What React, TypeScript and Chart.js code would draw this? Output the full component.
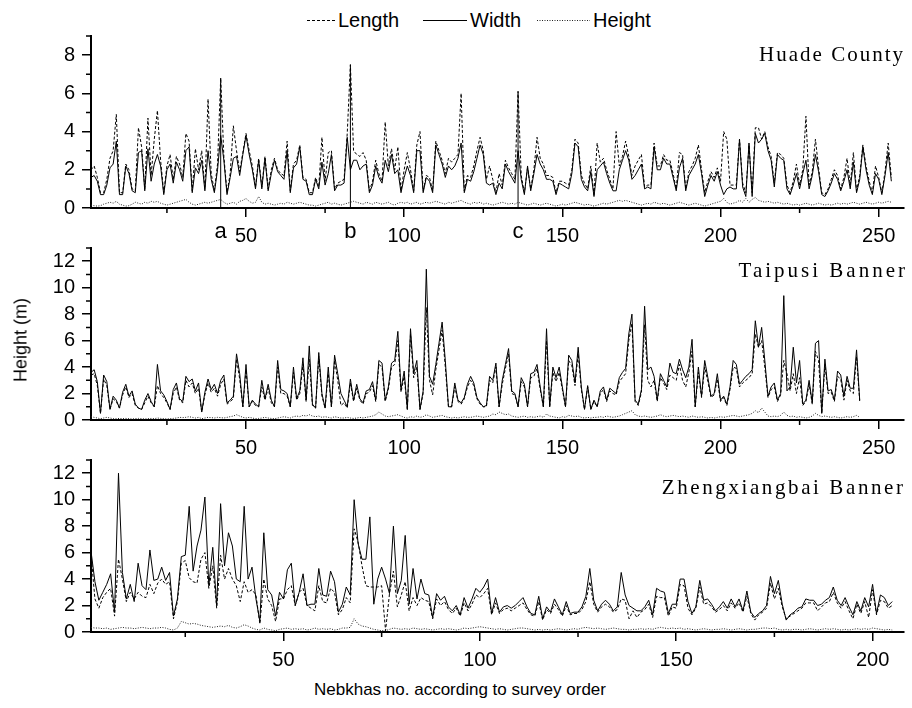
import React, { useEffect, useRef } from "react";
import { Chart, registerables } from "chart.js";
Chart.register(...registerables);

// ---------- Huade County (nebkha no. 1..254) ----------
const HUADE_LENGTH = [
  2.0, 2.2, 1.6, 0.8, 0.8, 1.5, 2.6, 3.0, 4.9, 0.8,
  0.8, 2.3, 2.0, 1.0, 0.9, 4.2, 3.2, 1.0, 4.7, 1.7,
  3.6, 5.1, 2.5, 0.8, 2.2, 2.8, 1.5, 2.7, 2.3, 1.6,
  3.9, 3.5, 0.9, 3.1, 2.0, 3.0, 1.0, 5.7, 1.8, 0.9,
  2.3, 6.8, 2.7, 0.8, 1.8, 4.3, 3.0, 1.9, 2.9, 3.9,
  3.0, 2.2, 1.1, 2.6, 1.1, 2.7, 1.0, 2.0, 2.6, 2.0,
  1.8, 1.7, 3.5, 0.9, 2.3, 2.5, 3.3, 1.6, 1.5, 0.8,
  0.8, 1.6, 1.1, 3.7, 1.4, 2.9, 3.0, 1.0, 1.3, 1.4,
  1.5, 3.9, 7.5, 3.0, 2.8, 2.7, 2.9, 2.5, 0.9, 1.4,
  2.5, 1.8, 1.4, 4.5, 2.2, 3.1, 2.0, 3.2, 0.9, 2.0,
  2.9, 2.0, 0.9, 3.3, 4.0, 0.9, 1.7, 1.6, 0.9, 3.5,
  3.0, 2.5, 1.8, 2.6, 2.4, 2.6, 2.8, 6.0, 0.9, 1.7,
  1.6, 2.2, 3.0, 3.7, 3.0, 1.5, 2.2, 1.5, 0.8, 1.8,
  1.2, 2.5, 2.1, 1.8, 1.5, 6.1, 1.7, 0.8, 2.1, 1.0,
  2.0, 3.7, 2.6, 2.3, 1.7, 1.7, 1.6, 0.8, 1.4, 1.4,
  1.3, 1.2, 2.0, 3.6, 3.4, 1.7, 1.3, 1.0, 2.2, 0.7,
  3.4, 2.4, 2.6, 2.0, 1.5, 1.0, 4.0, 2.2, 2.7, 3.5,
  2.7, 1.7, 2.2, 2.5, 2.8, 1.1, 1.2, 1.2, 3.4, 2.2,
  2.2, 2.8, 2.5, 2.5, 1.8, 1.0, 2.9, 2.8, 1.0, 1.9,
  2.2, 2.6, 3.3, 2.0, 0.8, 1.4, 1.9, 1.6, 2.1, 1.4,
  4.0, 3.6, 1.2, 1.2, 1.2, 3.6, 1.3, 0.8, 3.3, 0.8,
  4.2, 4.2, 3.6, 4.0, 3.2, 2.7, 1.3, 2.9, 2.8, 2.6,
  1.2, 0.8, 1.4, 2.3, 1.2, 2.0, 4.8, 1.2, 1.9, 3.6,
  2.1, 0.8, 0.7, 1.0, 1.5, 2.0, 1.7, 1.0, 1.6, 2.6,
  1.2, 2.9, 0.9, 1.7, 3.3, 2.2, 1.4, 0.8, 2.2, 1.6,
  0.8, 1.9, 3.4, 1.6,
];
const HUADE_WIDTH = [
  1.6, 1.7, 1.4, 0.7, 0.7, 1.2, 2.1, 2.3, 3.5, 0.7,
  0.7, 2.2, 1.8, 0.9, 0.8, 2.9, 3.0, 0.9, 3.1, 1.4,
  2.3, 2.8, 2.2, 0.7, 2.0, 2.3, 1.3, 2.4, 2.0, 1.4,
  3.0, 3.2, 0.8, 2.1, 1.8, 2.5, 0.9, 3.0, 1.5, 0.8,
  2.0, 3.8, 2.5, 0.7, 1.6, 2.6, 2.7, 1.7, 2.8, 3.8,
  2.8, 2.0, 1.0, 2.5, 1.0, 2.6, 0.9, 1.8, 2.5, 1.9,
  1.7, 1.5, 3.0, 0.8, 2.1, 2.3, 3.2, 1.5, 1.4, 0.7,
  0.7, 1.5, 1.0, 2.4, 1.2, 1.8, 2.8, 0.9, 1.2, 1.2,
  1.3, 3.7, 2.0, 2.5, 2.5, 2.0, 2.2, 2.3, 0.8, 1.2,
  2.2, 1.6, 1.3, 2.5, 1.9, 2.8, 1.8, 2.0, 0.8, 1.6,
  2.2, 1.7, 0.8, 3.0, 3.0, 0.8, 1.6, 1.4, 0.8, 3.3,
  2.8, 2.3, 1.6, 2.2, 2.0, 2.2, 2.6, 3.4, 0.8, 1.5,
  1.4, 1.9, 2.6, 3.3, 2.8, 1.3, 1.2, 1.3, 0.7, 1.3,
  1.0, 2.3, 1.9, 1.6, 1.3, 3.0, 1.5, 0.7, 2.2, 0.9,
  1.8, 2.8, 2.3, 2.0, 1.5, 1.5, 1.4, 0.7, 1.3, 1.2,
  1.1, 1.0, 1.8, 3.4, 3.2, 1.5, 1.1, 0.9, 1.9, 0.6,
  2.0, 2.2, 2.4, 1.8, 1.3, 0.9, 0.9, 2.0, 2.5, 3.0,
  2.5, 1.5, 1.7, 2.0, 2.3, 1.0, 1.1, 1.0, 3.2, 2.0,
  2.0, 2.6, 2.3, 2.3, 1.6, 0.9, 2.1, 2.6, 0.9, 1.7,
  2.0, 2.3, 2.8, 1.8, 0.6, 1.2, 1.7, 1.4, 1.9, 1.2,
  0.7, 1.0, 1.1, 1.0, 1.0, 3.6, 1.1, 0.6, 3.4, 0.6,
  3.9, 3.4, 3.6, 3.9, 3.0, 2.5, 1.1, 2.8, 2.6, 2.5,
  1.0, 0.7, 1.2, 1.8, 1.0, 1.8, 2.5, 1.0, 1.7, 2.8,
  1.9, 0.7, 0.6, 0.9, 1.3, 1.8, 1.5, 0.9, 1.4, 2.0,
  1.0, 2.4, 0.8, 1.5, 3.2, 2.0, 1.2, 0.7, 1.8, 1.5,
  0.7, 1.7, 2.9, 1.4,
];
const HUADE_HEIGHT = [
  0.15, 0.12, 0.1, 0.12, 0.2, 0.25, 0.3, 0.25, 0.35, 0.2,
  0.15, 0.1, 0.12, 0.2, 0.3, 0.25, 0.2, 0.3, 0.25, 0.35,
  0.3, 0.35, 0.25, 0.2, 0.15, 0.2, 0.25, 0.3, 0.35, 0.4,
  0.45, 0.3, 0.2, 0.15, 0.2, 0.25, 0.3, 0.25, 0.3, 0.35,
  0.4, 0.45, 0.3, 0.2, 0.25, 0.3, 0.2, 0.35, 0.4, 0.5,
  0.35, 0.25, 0.3, 0.6, 0.3, 0.2, 0.25, 0.2, 0.15, 0.2,
  0.25, 0.2, 0.3, 0.25, 0.2, 0.25, 0.3, 0.25, 0.2, 0.15,
  0.15, 0.1, 0.15, 0.2, 0.25, 0.3, 0.2, 0.25, 0.2, 0.15,
  0.2, 0.25, 0.3, 0.35, 0.3, 0.25, 0.2, 0.3, 0.25, 0.2,
  0.3, 0.25, 0.2, 0.25, 0.3, 0.2, 0.15, 0.25, 0.3, 0.25,
  0.3, 0.2, 0.25, 0.3, 0.2, 0.25, 0.3, 0.25, 0.3, 0.35,
  0.3, 0.25, 0.2, 0.3, 0.25, 0.3, 0.35, 0.4, 0.3, 0.25,
  0.2, 0.3, 0.25, 0.3, 0.2, 0.25, 0.2, 0.15, 0.2, 0.25,
  0.3, 0.25, 0.2, 0.25, 0.2, 0.3, 0.25, 0.2, 0.15, 0.2,
  0.25, 0.2, 0.15, 0.2, 0.25, 0.2, 0.15, 0.1, 0.15, 0.2,
  0.15, 0.2, 0.25, 0.3, 0.25, 0.2, 0.15, 0.2, 0.15, 0.1,
  0.15, 0.2, 0.25, 0.2, 0.25, 0.3, 0.35, 0.4, 0.35, 0.4,
  0.35, 0.3, 0.25, 0.2, 0.15, 0.2, 0.25, 0.2, 0.3, 0.25,
  0.2, 0.25, 0.2, 0.15, 0.2, 0.25, 0.3, 0.25, 0.2, 0.15,
  0.2, 0.25, 0.2, 0.15, 0.1, 0.15, 0.2, 0.25, 0.3, 0.35,
  0.5, 0.3, 0.2, 0.25, 0.3, 0.4, 0.3, 0.5, 0.3, 0.45,
  0.55, 0.4, 0.35, 0.3, 0.35, 0.3, 0.25, 0.3, 0.25, 0.2,
  0.25, 0.2, 0.15, 0.2, 0.15, 0.2, 0.25, 0.2, 0.15, 0.2,
  0.25, 0.2, 0.15, 0.2, 0.15, 0.2, 0.25, 0.2, 0.25, 0.2,
  0.25, 0.3, 0.25, 0.2, 0.25, 0.3, 0.25, 0.2, 0.25, 0.3,
  0.25, 0.3, 0.35, 0.3,
];

// ---------- Taipusi Banner (nebkha no. 1..244) ----------
const TAIPUSI_LENGTH = [
  3.4, 3.5, 2.6, 0.5, 3.1, 2.6, 0.8, 1.6, 1.4, 0.9,
  1.9, 2.5, 1.7, 2.0, 1.1, 0.9, 0.8, 1.3, 1.8, 1.3,
  1.0, 2.6, 2.0, 1.7, 1.3, 0.8, 2.0, 2.5, 1.5, 1.3,
  3.0, 2.5, 2.8, 2.0, 2.4, 0.6, 1.9, 2.8, 2.1, 2.4,
  1.8, 2.7, 3.1, 1.2, 1.4, 1.6, 4.6, 3.1, 1.0, 3.8,
  1.0, 1.4, 1.1, 1.0, 2.5, 1.5, 2.4, 1.3, 1.0, 4.0,
  2.0, 2.0, 1.8, 1.0, 3.6, 1.5, 2.0, 4.2, 1.4, 4.6,
  1.1, 0.9, 4.8, 1.8, 0.9, 3.5, 1.0, 4.5, 3.0, 1.1,
  1.3, 0.9, 2.8, 1.4, 2.4, 1.5, 1.2, 2.0, 2.1, 2.6,
  1.4, 4.2, 4.0, 1.4, 2.3, 4.0, 4.2, 6.0, 2.1, 3.3,
  0.8, 6.5, 3.2, 4.0, 0.8, 2.0, 8.5, 3.0, 1.9, 3.8,
  5.3, 6.8, 4.0, 1.0, 1.0, 2.5, 1.4, 1.2, 1.6, 2.5,
  3.0, 2.6, 1.6, 1.2, 1.0, 1.0, 3.0, 2.8, 4.0, 1.0,
  2.7, 3.9, 5.0, 2.0, 1.9, 1.0, 2.9, 2.5, 1.0, 3.2,
  3.3, 3.9, 2.3, 1.0, 6.0, 1.0, 3.6, 2.9, 3.6, 2.3,
  1.0, 4.5, 4.1, 2.6, 5.0, 2.3, 0.8, 2.5, 0.8, 1.4,
  1.0, 2.0, 2.3, 1.4, 2.2, 2.0, 1.9, 2.9, 3.2, 3.5,
  6.0, 7.3, 1.4, 1.1, 2.1, 7.2, 3.0, 2.5, 3.0, 1.4,
  3.2, 2.8, 2.3, 3.4, 3.2, 3.0, 4.2, 3.0, 2.5, 3.6,
  5.2, 1.0, 3.6, 1.7, 4.0, 2.9, 1.7, 1.9, 3.1, 1.4,
  1.7, 1.1, 2.3, 4.0, 3.9, 2.5, 2.8, 3.0, 3.2, 3.5,
  6.5, 5.5, 6.0, 4.0, 1.7, 2.3, 2.5, 1.4, 1.9, 4.5,
  3.5, 2.2, 3.5, 2.0, 3.2, 1.1, 1.4, 2.7, 1.2, 5.2,
  4.5, 0.5, 4.2, 2.0, 2.1, 1.4, 3.3, 3.1, 1.5, 3.0,
  2.2, 2.0, 4.8, 1.4,
];
const TAIPUSI_WIDTH = [
  3.6, 3.8, 2.9, 0.5, 3.4, 2.9, 0.8, 1.8, 1.5, 0.9,
  2.1, 2.7, 1.8, 2.2, 1.2, 0.9, 0.8, 1.5, 2.0, 1.4,
  1.0, 4.2, 2.2, 1.9, 1.4, 0.8, 2.3, 2.8, 1.6, 1.4,
  3.3, 2.9, 3.1, 2.2, 2.8, 0.6, 2.1, 3.1, 2.3, 2.7,
  2.0, 3.0, 3.4, 1.3, 1.5, 1.8, 5.0, 3.5, 1.0, 4.2,
  1.0, 1.5, 1.2, 1.0, 3.0, 1.6, 2.7, 1.5, 1.0, 4.5,
  2.3, 2.2, 2.0, 1.0, 4.0, 1.6, 2.2, 4.7, 1.5, 5.6,
  1.2, 0.9, 5.1, 2.0, 0.9, 4.0, 1.0, 4.9, 3.5, 2.0,
  1.5, 1.0, 3.1, 1.5, 2.7, 1.6, 1.3, 2.2, 2.3, 2.9,
  1.5, 4.5, 4.3, 1.5, 2.5, 4.3, 4.5, 6.7, 2.3, 3.7,
  0.8, 6.9, 3.5, 4.5, 0.8, 2.2, 11.4, 3.3, 2.7, 4.2,
  5.8, 7.4, 4.5, 1.0, 1.0, 2.8, 1.5, 1.3, 1.7, 2.7,
  3.3, 2.8, 1.7, 1.3, 1.0, 1.1, 3.3, 3.0, 4.3, 1.0,
  3.0, 4.2, 5.4, 2.2, 2.0, 1.0, 3.2, 2.7, 1.0, 3.5,
  3.6, 4.2, 2.5, 1.0, 6.9, 1.0, 4.0, 3.2, 4.0, 2.5,
  1.0, 4.9, 4.5, 2.8, 5.5, 2.5, 0.8, 2.6, 0.8, 1.5,
  1.0, 2.2, 2.5, 1.5, 2.4, 2.2, 2.0, 3.2, 3.6, 3.9,
  6.5, 8.0, 1.5, 1.2, 2.3, 8.6, 3.8, 4.0, 3.3, 1.5,
  3.5, 3.0, 2.5, 4.3, 3.6, 3.5, 4.6, 3.8, 3.2, 4.0,
  6.1, 1.0, 4.0, 1.8, 4.5, 3.2, 1.8, 2.0, 3.5, 1.5,
  1.8, 1.2, 2.5, 4.5, 4.2, 2.7, 3.0, 3.3, 3.5, 3.8,
  7.5, 5.5, 7.0, 4.5, 1.8, 2.5, 2.8, 1.5, 2.0, 9.4,
  2.2, 2.5, 5.5, 2.8, 4.5, 1.2, 1.5, 3.0, 1.3, 5.8,
  6.0, 0.5, 4.6, 2.2, 2.3, 1.5, 3.7, 3.4, 1.8, 3.3,
  2.4, 2.4, 5.3, 1.5,
];
const TAIPUSI_HEIGHT = [
  0.25, 0.2, 0.15, 0.1, 0.15, 0.2, 0.15, 0.1, 0.1, 0.12,
  0.1, 0.12, 0.1, 0.08, 0.1, 0.12, 0.1, 0.08, 0.1, 0.12,
  0.1, 0.15, 0.12, 0.1, 0.08, 0.1, 0.12, 0.15, 0.2, 0.18,
  0.2, 0.25, 0.2, 0.15, 0.2, 0.1, 0.15, 0.2, 0.18, 0.15,
  0.2, 0.18, 0.15, 0.2, 0.25, 0.3, 0.4, 0.3, 0.2, 0.15,
  0.2, 0.15, 0.1, 0.12, 0.15, 0.2, 0.15, 0.12, 0.1, 0.15,
  0.2, 0.25, 0.2, 0.15, 0.25, 0.3, 0.25, 0.35, 0.3, 0.4,
  0.3, 0.25, 0.3, 0.2, 0.25, 0.2, 0.15, 0.25, 0.2, 0.15,
  0.15, 0.2, 0.15, 0.12, 0.15, 0.2, 0.15, 0.2, 0.25, 0.3,
  0.4, 0.6, 0.45, 0.3, 0.25, 0.3, 0.35, 0.4, 0.3, 0.2,
  0.15, 0.25, 0.2, 0.3, 0.2, 0.25, 0.4, 0.3, 0.2, 0.25,
  0.3, 0.35, 0.25, 0.2, 0.15, 0.2, 0.15, 0.2, 0.25, 0.2,
  0.2, 0.25, 0.3, 0.25, 0.2, 0.25, 0.3, 0.45, 0.4, 0.6,
  0.5, 0.4, 0.45, 0.3, 0.25, 0.2, 0.25, 0.3, 0.2, 0.25,
  0.2, 0.25, 0.3, 0.2, 0.45, 0.3, 0.25, 0.2, 0.15, 0.25,
  0.2, 0.35, 0.3, 0.25, 0.3, 0.2, 0.15, 0.2, 0.15, 0.2,
  0.2, 0.25, 0.2, 0.3, 0.25, 0.2, 0.25, 0.3, 0.4, 0.5,
  0.6, 0.7, 0.4, 0.3, 0.25, 0.3, 0.25, 0.2, 0.25, 0.3,
  0.4, 0.3, 0.25, 0.3, 0.35, 0.3, 0.25, 0.3, 0.25, 0.2,
  0.3, 0.25, 0.2, 0.25, 0.2, 0.15, 0.2, 0.15, 0.2, 0.25,
  0.2, 0.25, 0.3, 0.35, 0.3, 0.25, 0.3, 0.35, 0.4, 0.5,
  0.7, 0.55, 0.9, 0.6, 0.3, 0.25, 0.3, 0.25, 0.35, 0.6,
  0.35, 0.25, 0.3, 0.2, 0.25, 0.2, 0.15, 0.2, 0.3, 0.5,
  0.35, 0.25, 0.3, 0.25, 0.2, 0.25, 0.2, 0.15, 0.2, 0.25,
  0.2, 0.25, 0.35, 0.2,
];

// ---------- Zhengxiangbai Banner (nebkha no. 1..205) ----------
const ZHENG_LENGTH = [
  5.9, 2.5, 1.8, 2.6, 3.0, 3.3, 1.2, 5.5, 4.0, 2.3,
  3.0, 2.5, 3.0, 2.7, 2.6, 3.6, 2.9, 3.7, 4.0, 3.6,
  3.8, 1.0, 2.3, 5.2, 5.4, 4.1, 3.8, 3.7, 5.5, 6.0,
  3.3, 5.0, 1.8, 5.8, 4.0, 4.8, 4.0, 3.5, 2.3, 3.8,
  3.0, 3.2, 2.8, 0.6, 4.0, 2.5, 2.0, 0.8, 2.5, 2.5,
  3.2, 3.5, 2.0, 3.0, 3.3, 2.0, 1.8, 1.6, 3.5, 2.3,
  2.2, 3.3, 3.0, 1.3, 1.7, 2.6, 2.2, 7.8, 6.8, 5.0,
  3.5, 3.4, 3.4, 3.4, 3.5, 0.1, 2.9, 4.6, 1.9, 2.8,
  3.8, 1.6, 2.6, 2.0, 2.6, 2.4, 2.3, 1.0, 2.5, 2.0,
  2.3, 1.7, 1.4, 1.8, 1.2, 2.2, 1.6, 2.1, 2.8, 2.6,
  2.9, 3.3, 1.3, 2.2, 1.4, 1.7, 1.8, 1.6, 1.8, 2.0,
  2.2, 1.7, 1.3, 1.2, 2.3, 0.9, 1.7, 1.4, 2.1, 1.7,
  1.2, 2.0, 1.3, 1.4, 1.4, 1.7, 2.3, 3.8, 2.1, 1.5,
  1.9, 2.1, 1.9, 1.5, 1.7, 2.5, 2.4, 1.0, 1.6, 1.1,
  1.5, 1.7, 2.1, 1.1, 2.7, 2.6, 2.6, 1.2, 1.9, 1.8,
  3.6, 3.5, 1.8, 1.3, 1.8, 3.4, 2.1, 2.2, 1.9, 1.5,
  1.7, 2.0, 1.6, 2.2, 1.8, 2.2, 1.5, 2.7, 1.4, 0.9,
  1.3, 1.5, 1.8, 3.7, 2.5, 3.3, 1.9, 1.0, 1.2, 1.4,
  1.6, 1.8, 2.2, 2.2, 2.2, 1.6, 1.9, 2.2, 2.3, 3.0,
  2.2, 1.8, 2.3, 1.6, 1.0, 2.1, 1.4, 2.3, 1.1, 3.2,
  1.3, 2.4, 2.3, 1.8, 2.0,
];
const ZHENG_WIDTH = [
  6.1, 3.8, 2.4, 3.0, 3.6, 4.4, 1.5, 12.0, 4.5, 2.5,
  3.6, 2.3, 5.2, 3.5, 3.2, 6.2, 3.9, 4.0, 4.9, 3.9,
  4.5, 1.2, 2.5, 5.7, 5.8, 9.5, 4.6, 6.5, 7.7, 10.2,
  3.5, 6.4, 2.0, 9.7, 5.0, 7.5, 6.5, 4.0, 3.8, 9.5,
  4.0, 4.9, 2.5, 0.8, 7.5, 3.2, 2.8, 1.2, 3.0, 2.5,
  4.7, 5.2, 2.0, 3.0, 4.4, 2.0, 2.1, 2.1, 4.8, 2.8,
  2.7, 4.6, 3.8, 1.5, 2.1, 3.4, 2.8, 10.0, 6.7, 5.5,
  5.5, 8.7, 2.1, 4.0, 4.9, 4.0, 2.9, 8.0, 2.9, 3.9,
  7.3, 2.1, 4.8, 2.5, 4.0, 2.9, 2.8, 1.1, 2.9, 2.4,
  2.7, 1.9, 1.6, 2.0, 1.3, 2.6, 1.8, 2.5, 3.3, 3.0,
  3.4, 4.0, 1.4, 2.6, 1.5, 1.9, 2.0, 1.8, 2.0, 2.3,
  2.6, 1.9, 1.4, 1.3, 2.7, 1.0, 1.9, 1.5, 2.5, 1.9,
  1.3, 2.3, 1.4, 1.5, 1.5, 1.9, 2.7, 4.8, 2.4, 1.6,
  2.1, 2.4, 2.1, 1.6, 1.9, 4.5, 2.8, 2.0, 1.8, 1.6,
  1.6, 1.9, 2.4, 1.3, 3.3, 3.1, 3.0, 1.4, 2.1, 2.1,
  4.0, 4.0, 2.3, 1.4, 1.9, 3.9, 2.4, 2.5, 2.1, 1.6,
  1.9, 2.3, 1.8, 2.5, 1.9, 2.5, 1.6, 3.1, 1.5, 1.1,
  1.4, 1.6, 2.0, 4.2, 2.9, 3.9, 2.1, 0.9, 1.3, 1.5,
  1.8, 1.9, 2.5, 2.4, 2.4, 2.0, 2.1, 2.4, 2.6, 3.4,
  2.4, 2.0, 2.6, 1.9, 1.3, 2.3, 1.6, 2.6, 1.9, 3.6,
  1.4, 2.8, 2.6, 2.0, 2.3,
];
const ZHENG_HEIGHT = [
  0.35, 0.3, 0.3, 0.25, 0.3, 0.2, 0.25, 0.3, 0.35, 0.3,
  0.3, 0.25, 0.3, 0.35, 0.3, 0.25, 0.3, 0.3, 0.35, 0.3,
  0.2, 0.15, 0.3, 0.8, 0.7, 0.6, 0.65, 0.6, 0.5, 0.45,
  0.4, 0.35, 0.4, 0.45, 0.4, 0.5, 0.35, 0.3, 0.4, 0.55,
  0.45, 0.3, 0.2, 0.15, 0.3, 0.2, 0.15, 0.1, 0.2, 0.25,
  0.3, 0.2, 0.25, 0.2, 0.25, 0.15, 0.2, 0.3, 0.2, 0.25,
  0.2, 0.25, 0.15, 0.2, 0.3, 0.3, 0.35, 1.0, 0.6, 0.45,
  0.4, 0.3, 0.2, 0.15, 0.1, 0.1, 0.2, 0.3, 0.25, 0.2,
  0.25, 0.2, 0.3, 0.25, 0.2, 0.25, 0.2, 0.15, 0.2, 0.25,
  0.2, 0.25, 0.2, 0.15, 0.2, 0.3, 0.25, 0.3, 0.35, 0.4,
  0.35, 0.3, 0.25, 0.2, 0.25, 0.2, 0.15, 0.2, 0.25, 0.3,
  0.3, 0.25, 0.2, 0.15, 0.2, 0.15, 0.2, 0.15, 0.2, 0.25,
  0.2, 0.15, 0.2, 0.25, 0.2, 0.3, 0.35, 0.3, 0.25, 0.3,
  0.25, 0.2, 0.25, 0.3, 0.25, 0.2, 0.2, 0.15, 0.2, 0.2,
  0.25, 0.2, 0.25, 0.2, 0.3, 0.35, 0.3, 0.25, 0.3, 0.25,
  0.3, 0.2, 0.25, 0.2, 0.15, 0.2, 0.25, 0.2, 0.15, 0.2,
  0.2, 0.25, 0.2, 0.15, 0.2, 0.25, 0.2, 0.15, 0.2, 0.2,
  0.25, 0.3, 0.3, 0.25, 0.3, 0.2, 0.15, 0.2, 0.15, 0.2,
  0.2, 0.15, 0.2, 0.25, 0.2, 0.15, 0.2, 0.25, 0.2, 0.25,
  0.2, 0.15, 0.2, 0.15, 0.2, 0.25, 0.2, 0.25, 0.2, 0.3,
  0.25, 0.2, 0.15, 0.2, 0.15,
];

// ---------- ticks / labels ----------
const SERIES_NAMES = ["Length", "Width", "Height"];
const PANEL_TITLES = ["Huade County", "Taipusi Banner", "Zhengxiangbai Banner"];
const X_TICKS_LONG = [50, 100, 150, 200, 250];
const X_MINOR_LONG = [25, 75, 125, 175, 225];
const X_TICKS_SHORT = [50, 100, 150, 200];
const X_MINOR_SHORT = [25, 75, 125, 175];
const Y_TICKS_LOW = [0, 2, 4, 6, 8];
const Y_MINOR_LOW = [1, 3, 5, 7, 9];
const Y_TICKS_HIGH = [0, 2, 4, 6, 8, 10, 12];
const Y_MINOR_HIGH = [1, 3, 5, 7, 9, 11, 13];
const MARKER_NOS = [42, 83, 136];
const MARKER_LABELS = ["a", "b", "c"];
const X_TITLE = "Nebkhas no. according to survey order";
const Y_TITLE = "Height (m)";

const SANS = "'Liberation Sans', Arial, sans-serif";

const toXY = (arr: number[]) => arr.map((v, k) => ({ x: k + 1, y: v }));

const axisExtras = {
  id: "axisExtras",
  afterDraw(chart: any, _args: any, opts: any) {
    const { ctx } = chart;
    const xs = chart.scales.x;
    const ys = chart.scales.y;
    ctx.save();
    ctx.strokeStyle = "#000";
    ctx.lineWidth = 1.5;
    ctx.beginPath();
    (opts.xMinor || []).forEach((v: number) => {
      const p = xs.getPixelForValue(v);
      ctx.moveTo(p, xs.top);
      ctx.lineTo(p, xs.top + 5);
    });
    (opts.yMinor || []).forEach((v: number) => {
      const p = ys.getPixelForValue(v);
      ctx.moveTo(ys.right, p);
      ctx.lineTo(ys.right - 5, p);
    });
    ctx.stroke();
    if (opts.markers) {
      ctx.fillStyle = "#000";
      ctx.font = "22px " + SANS;
      ctx.textAlign = "center";
      ctx.textBaseline = "alphabetic";
      opts.markers.forEach((m: number, k: number) => {
        ctx.fillText(opts.markerLabels[k], xs.getPixelForValue(m), xs.top + 30);
      });
    }
    ctx.restore();
  },
};

type PanelCfg = {
  length: number[];
  width: number[];
  height: number[];
  xMax: number;
  yMax: number;
  xTicks: number[];
  xMinor: number[];
  yTicks: number[];
  yMinor: number[];
  markers?: number[];
};

const PANELS: PanelCfg[] = [
  { length: HUADE_LENGTH, width: HUADE_WIDTH, height: HUADE_HEIGHT, xMax: 258, yMax: 9,
    xTicks: X_TICKS_LONG, xMinor: X_MINOR_LONG, yTicks: Y_TICKS_LOW, yMinor: Y_MINOR_LOW, markers: MARKER_NOS },
  { length: TAIPUSI_LENGTH, width: TAIPUSI_WIDTH, height: TAIPUSI_HEIGHT, xMax: 258, yMax: 13,
    xTicks: X_TICKS_LONG, xMinor: X_MINOR_LONG, yTicks: Y_TICKS_HIGH, yMinor: Y_MINOR_HIGH },
  { length: ZHENG_LENGTH, width: ZHENG_WIDTH, height: ZHENG_HEIGHT, xMax: 208, yMax: 13,
    xTicks: X_TICKS_SHORT, xMinor: X_MINOR_SHORT, yTicks: Y_TICKS_HIGH, yMinor: Y_MINOR_HIGH },
];

const CANVAS_H = 222;
const PAD_TOP = 8;
const PLOT_H = 172;

function zeroPadding(s: any) {
  s.paddingTop = 0;
  s.paddingBottom = 0;
  s.paddingLeft = 0;
  s.paddingRight = 0;
}

function buildConfig(p: PanelCfg): any {
  const base = { borderColor: "#000", borderWidth: 1, pointRadius: 0, tension: 0, fill: false };
  const datasets: any[] = [
    { ...base, label: SERIES_NAMES[0], data: toXY(p.length), borderDash: [3, 2] },
    { ...base, label: SERIES_NAMES[1], data: toXY(p.width) },
    { ...base, label: SERIES_NAMES[2], data: toXY(p.height), borderDash: [1, 1.5], borderColor: "#222" },
  ];
  (p.markers || []).forEach((m) => {
    datasets.push({ ...base, label: "marker", data: [{ x: m, y: 0 }, { x: m, y: p.length[m - 1] }] });
  });
  const tickFont = { family: SANS, size: 20 };
  const grid = { display: true, drawOnChartArea: false, drawTicks: true, tickLength: 9, tickWidth: 1.5, tickColor: "#000", lineWidth: 1.5, color: "#000" };
  return {
    type: "line",
    data: { datasets },
    options: {
      animation: false,
      responsive: false,
      maintainAspectRatio: false,
      events: [],
      layout: { padding: { top: PAD_TOP, right: 8, left: 0, bottom: 0 } },
      plugins: {
        legend: { display: false },
        tooltip: { enabled: false },
        axisExtras: { xMinor: p.xMinor, yMinor: p.yMinor, markers: p.markers, markerLabels: MARKER_LABELS },
      },
      scales: {
        x: {
          type: "linear",
          min: 1,
          max: p.xMax,
          afterBuildTicks: (ax: any) => { ax.ticks = p.xTicks.map((v) => ({ value: v })); },
          afterFit: (s: any) => { s.height = CANVAS_H - PAD_TOP - PLOT_H; zeroPadding(s); },
          grid,
          border: { display: true, color: "#000", width: 2 },
          ticks: { color: "#000", font: tickFont, padding: 7, maxRotation: 0, autoSkip: false },
        },
        y: {
          type: "linear",
          min: 0,
          max: p.yMax,
          afterBuildTicks: (ax: any) => { ax.ticks = p.yTicks.map((v) => ({ value: v })); },
          afterFit: (s: any) => { s.width = 91; zeroPadding(s); },
          grid,
          border: { display: true, color: "#000", width: 2 },
          ticks: { color: "#000", font: tickFont, padding: 7, autoSkip: false },
        },
      },
    },
    plugins: [axisExtras],
  };
}

function Panel({ cfg, top }: { cfg: PanelCfg; top: number }) {
  const ref = useRef<HTMLCanvasElement>(null);
  useEffect(() => {
    const chart = new Chart(ref.current as HTMLCanvasElement, buildConfig(cfg));
    return () => chart.destroy();
  }, [cfg]);
  return (
    <canvas
      ref={ref}
      width={912}
      height={CANVAS_H}
      style={{ position: "absolute", left: 0, top, width: 912, height: CANVAS_H }}
    />
  );
}

function PanelTitle({ text, right, centerY, spacing }: { text: string; right: number; centerY: number; spacing: number }) {
  return (
    <div
      style={{
        position: "absolute", right: 912 - right - spacing, top: centerY - 13, height: 26, lineHeight: "26px",
        whiteSpace: "nowrap", fontFamily: "'Liberation Serif', 'DejaVu Serif', serif", fontSize: 21, color: "#000",
        letterSpacing: spacing, textAlign: "right",
      }}
    >
      {text}
    </div>
  );
}

export default function App() {
  const legendText = { position: "absolute" as const, top: 9, fontFamily: SANS, fontSize: 20, lineHeight: "22px", color: "#000", whiteSpace: "nowrap" as const };
  return (
    <div style={{ position: "fixed", left: 0, top: 0, width: 912, height: 708, background: "#fff", overflow: "hidden" }}>
      <svg width={912} height={40} style={{ position: "absolute", left: 0, top: 0 }}>
        <line x1={307} y1={20.5} x2={335} y2={20.5} stroke="#000" strokeWidth={1} strokeDasharray="3 2" />
        <line x1={423} y1={20.5} x2={467} y2={20.5} stroke="#000" strokeWidth={1} />
        <line x1={537} y1={20.5} x2={590} y2={20.5} stroke="#222" strokeWidth={1} strokeDasharray="1 1.5" />
      </svg>
      <div style={{ ...legendText, left: 338 }}>{SERIES_NAMES[0]}</div>
      <div style={{ ...legendText, left: 470 }}>{SERIES_NAMES[1]}</div>
      <div style={{ ...legendText, left: 593 }}>{SERIES_NAMES[2]}</div>

      <Panel cfg={PANELS[0]} top={28} />
      <Panel cfg={PANELS[1]} top={240} />
      <Panel cfg={PANELS[2]} top={452} />

      <PanelTitle text={PANEL_TITLES[0]} right={903} centerY={54} spacing={2} />
      <PanelTitle text={PANEL_TITLES[1]} right={905} centerY={270} spacing={3} />
      <PanelTitle text={PANEL_TITLES[2]} right={903} centerY={487} spacing={2.6} />

      <div
        style={{
          position: "absolute", left: 21, top: 340, transform: "translate(-50%, -50%) rotate(-90deg)",
          fontFamily: SANS, fontSize: 18, whiteSpace: "nowrap", color: "#000",
        }}
      >
        {Y_TITLE}
      </div>
      <div
        style={{
          position: "absolute", left: 460, top: 690, transform: "translate(-50%, -50%)",
          fontFamily: SANS, fontSize: 17, whiteSpace: "nowrap", color: "#000",
        }}
      >
        {X_TITLE}
      </div>
    </div>
  );
}
